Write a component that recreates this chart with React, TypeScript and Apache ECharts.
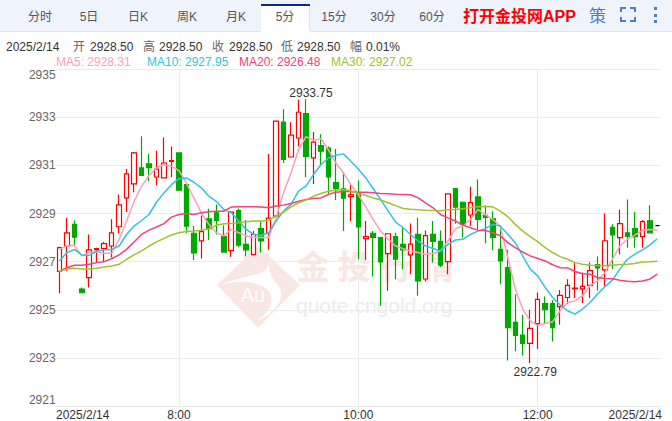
import React, { useEffect, useRef } from "react";
import * as echarts from "echarts";

const opens = [2926.59,2927.65,2928.55,2925.86,2926.34,2927.50,2927.54,2927.65,2928.45,2929.65,2930.23,2930.90,2931.07,2930.52,2930.48,2931.17,2931.52,2930.20,2928.18,2927.86,2928.78,2929.03,2928.04,2927.46,2929.12,2927.72,2927.29,2928.37,2928.20,2928.89,2932.80,2931.35,2932.14,2933.15,2931.31,2931.82,2931.72,2930.29,2930.03,2929.70,2929.85,2927.96,2928.18,2928.00,2927.33,2928.04,2927.72,2927.28,2928.13,2926.28,2928.13,2927.84,2927.00,2930.04,2929.47,2928.94,2929.69,2928.92,2928.78,2927.51,2926.75,2924.48,2923.95,2923.60,2924.42,2925.26,2925.26,2925.13,2925.51,2925.88,2925.87,2926.01,2926.88,2926.66,2928.43,2928.00,2928.20,2928.37,2928.04,2928.70,2928.50];
const closes = [2927.58,2928.20,2928.02,2925.71,2927.49,2927.54,2927.75,2928.20,2929.36,2930.65,2931.52,2930.59,2930.91,2930.85,2931.10,2931.20,2929.97,2928.48,2927.36,2928.25,2928.37,2928.71,2927.40,2929.06,2927.69,2927.49,2928.13,2927.86,2928.81,2932.84,2931.25,2932.26,2933.21,2931.38,2931.97,2931.59,2930.52,2930.05,2929.64,2929.78,2928.44,2928.04,2928.01,2926.99,2928.16,2927.10,2927.49,2927.73,2926.20,2928.08,2927.84,2926.85,2929.82,2929.27,2928.55,2929.45,2928.76,2928.84,2928.01,2927.03,2924.26,2923.93,2923.60,2924.23,2925.43,2925.00,2924.26,2925.60,2926.01,2925.90,2925.97,2926.63,2926.74,2927.87,2928.11,2928.58,2928.05,2928.04,2928.66,2928.20,2928.50];
const lows = [2925.69,2926.62,2927.65,2925.71,2925.93,2926.96,2926.99,2927.17,2928.18,2929.06,2929.89,2930.59,2930.34,2930.18,2930.48,2930.52,2929.97,2928.18,2927.07,2927.13,2927.90,2928.13,2927.40,2927.20,2927.60,2927.21,2927.29,2927.38,2927.49,2928.86,2931.10,2931.35,2931.79,2930.51,2930.23,2930.99,2929.83,2929.56,2928.27,2928.69,2927.10,2927.07,2926.38,2925.17,2925.79,2926.27,2926.68,2926.48,2925.58,2926.17,2926.96,2926.78,2926.48,2928.58,2928.00,2928.48,2928.34,2927.76,2927.47,2926.06,2922.89,2923.28,2923.10,2922.79,2923.37,2924.45,2923.68,2924.38,2925.24,2925.49,2925.28,2925.49,2925.79,2925.97,2926.69,2927.31,2927.58,2927.58,2927.58,2928.20,2928.50];
const highs = [2927.62,2928.83,2928.71,2925.93,2928.13,2927.58,2927.82,2928.76,2929.79,2930.85,2931.56,2932.21,2931.49,2931.61,2932.16,2931.79,2931.52,2930.20,2928.48,2928.92,2929.20,2929.38,2928.51,2929.10,2929.21,2928.73,2928.27,2928.69,2931.47,2932.84,2933.34,2932.79,2933.73,2933.75,2932.39,2932.30,2931.79,2931.68,2930.72,2930.25,2930.37,2928.69,2928.27,2928.00,2928.16,2928.20,2928.41,2928.59,2928.83,2928.30,2928.69,2928.30,2929.82,2930.04,2929.50,2930.11,2930.41,2929.33,2929.10,2928.48,2927.50,2925.65,2924.78,2925.00,2925.72,2925.55,2925.40,2925.82,2926.27,2926.96,2926.55,2926.96,2927.21,2929.00,2928.55,2929.17,2929.58,2929.06,2928.73,2929.34,2928.50];

const ma5 = [2927.51,2927.65,2927.68,2927.24,2927.38,2927.42,2927.35,2927.35,2927.93,2928.69,2929.50,2930.14,2930.58,2930.90,2931.03,2930.97,2930.78,2930.27,2929.65,2929.03,2928.55,2928.20,2928.07,2928.34,2928.20,2928.07,2928.00,2928.00,2928.00,2928.82,2929.86,2930.69,2931.65,2932.20,2932.04,2932.11,2931.65,2931.10,2930.69,2930.20,2929.79,2929.28,2928.75,2928.27,2927.93,2927.65,2927.54,2927.44,2927.38,2927.31,2927.35,2927.44,2927.86,2928.37,2928.48,2928.75,2929.17,2928.96,2928.75,2928.48,2927.17,2925.86,2925.03,2924.55,2924.34,2924.43,2924.50,2924.96,2925.30,2925.37,2925.58,2926.00,2926.20,2926.55,2927.10,2927.65,2927.93,2928.10,2928.30,2928.34,2928.31];
const ma10 = [2927.03,2927.37,2927.51,2927.28,2927.26,2927.44,2927.49,2927.51,2927.65,2928.13,2928.48,2928.71,2928.96,2929.47,2929.86,2930.20,2930.45,2930.48,2930.30,2930.07,2929.72,2929.51,2929.17,2929.03,2928.69,2928.34,2928.13,2928.09,2928.20,2928.69,2929.10,2929.38,2929.93,2930.14,2930.62,2931.03,2931.31,2931.42,2931.48,2931.17,2930.85,2930.48,2930.03,2929.58,2929.10,2928.64,2928.41,2928.13,2927.86,2927.65,2927.55,2927.44,2927.72,2927.90,2927.93,2928.13,2928.27,2928.37,2928.55,2928.48,2928.14,2927.79,2927.24,2926.69,2926.41,2925.93,2925.51,2925.20,2924.96,2924.82,2925.03,2925.30,2925.65,2925.96,2926.23,2926.69,2927.10,2927.31,2927.49,2927.69,2927.95];
const ma20 = [2926.59,2926.75,2926.85,2926.85,2926.89,2926.96,2927.00,2927.12,2927.28,2927.51,2927.82,2928.13,2928.31,2928.44,2928.58,2928.85,2928.96,2929.00,2928.96,2929.03,2929.07,2929.10,2929.10,2929.27,2929.28,2929.28,2929.28,2929.27,2929.24,2929.31,2929.35,2929.42,2929.51,2929.58,2929.63,2929.65,2929.79,2929.89,2929.92,2929.92,2929.88,2929.89,2929.86,2929.83,2929.82,2929.80,2929.79,2929.78,2929.65,2929.44,2929.24,2928.96,2928.82,2928.69,2928.52,2928.41,2928.31,2928.30,2928.20,2928.07,2927.79,2927.58,2927.40,2927.24,2927.13,2927.03,2926.87,2926.75,2926.74,2926.59,2926.50,2926.48,2926.34,2926.30,2926.29,2926.23,2926.19,2926.16,2926.20,2926.27,2926.48];
const ma30 = [2926.59,2926.69,2926.73,2926.69,2926.69,2926.73,2926.78,2926.82,2926.89,2927.10,2927.28,2927.45,2927.65,2927.82,2927.97,2928.11,2928.20,2928.25,2928.27,2928.31,2928.37,2928.51,2928.58,2928.59,2928.62,2928.66,2928.69,2928.69,2928.71,2928.89,2929.06,2929.28,2929.45,2929.56,2929.72,2929.83,2929.93,2929.97,2930.00,2929.95,2929.83,2929.75,2929.65,2929.56,2929.45,2929.33,2929.21,2929.18,2929.16,2929.14,2929.13,2929.12,2929.16,2929.17,2929.20,2929.25,2929.28,2929.29,2929.28,2929.10,2928.87,2928.55,2928.27,2928.04,2927.83,2927.58,2927.38,2927.21,2927.10,2926.96,2926.89,2926.85,2926.84,2926.83,2926.85,2926.88,2926.89,2926.92,2926.99,2927.00,2927.02];

const categories = [
  "2025/2/14","6:45","6:50","6:55","7:00","7:05","7:10","7:15","7:20","7:25","7:30","7:35","7:40","7:45","7:50","7:55",
  "8:00","8:05","8:10","8:15","8:20","8:25","8:30","8:35","8:40","8:45","8:50","8:55","9:00","9:05","9:10","9:15","9:20","9:25","9:30","9:35","9:40","9:45","9:50","9:55",
  "10:00","10:05","10:10","10:15","10:20","10:25","10:30","10:35","10:40","10:45","10:50","10:55","11:00","11:05","11:10","11:15","11:20","11:25","11:30","11:35","11:40","11:45","11:50","11:55",
  "12:00","12:05","12:10","12:15","12:20","12:25","12:30","12:35","12:40","12:45","12:50","12:55","13:00","13:05","13:10","13:15","2025/2/14",
];
const labelIndexes = [16, 40, 64];
const gridIndexes = [16, 40, 64];
const dateLabel = "2025/2/14";
const tabs = ["分时", "5日", "日K", "周K", "月K", "5分", "15分", "30分", "60分"];
const tabCenters = [40, 89, 138, 187, 236, 285, 334, 383, 432];
const quoteParts: [string, number, boolean][] = [
  ["2025/2/14", 6, true], ["开", 73, false], ["2928.50", 90, true], ["高", 143, false], ["2928.50", 159, true],
  ["收", 212, false], ["2928.50", 229, true], ["低", 281, false], ["2928.50", 297, true], ["幅", 350, false], ["0.01%", 366, true],
];
const legendItems: [string, number, string][] = [
  ["MA5: 2928.31", 56, "#fd9fbd"], ["MA10: 2927.95", 147, "#2fc5e0"], ["MA20: 2926.48", 239, "#f1437f"], ["MA30: 2927.02", 331, "#a3c22b"],
];
const wmChars: [string, number][] = [["金", 313], ["投", 354], ["行", 396], ["情", 438]];

const FONT = '"Liberation Sans","Noto Sans CJK SC",sans-serif';
const RED = "#ff0000";
const GREEN = "#00a800";
const BLUE = "#4a80c4";

echarts.graphic.registerShape("wmDiamond", echarts.graphic.extendPath("M258 248 L298 285 L258 326 L219 285 Z", {}));
echarts.graphic.registerShape(
  "wmSwoosh",
  echarts.graphic.extendPath(
    "M221 285 C235 278 255 276.3 263.3 271.3 C268.3 268 268.3 263 268.3 259.7 C268.3 273 273.3 279.7 280 288 C285 298 275 314.7 256.7 320.7 C268.3 313 275 303 270 293 C265 283 241.7 278 221 285 Z",
    {}
  )
);

function txt(text: string, x: number, y: number, fill: string, size: number, extra: any = {}) {
  return {
    type: "text",
    x,
    y,
    z: 10,
    silent: true,
    style: { text, fill, font: `${extra.weight || "normal"} ${size}px ${FONT}`, textAlign: extra.align || "left", textVerticalAlign: "middle" },
  };
}

export default function App() {
  const ref = useRef<HTMLDivElement>(null);
  useEffect(() => {
    document.body.style.margin = "0";
    const chart = echarts.init(ref.current!, null, { renderer: "svg" });
    const candle = categories.map((_, i) => {
      const value = [opens[i], closes[i], lows[i], highs[i]];
      return i === 80
        ? { value, itemStyle: { borderColor: "#000", borderColor0: "#000", borderColorDoji: "#000" } }
        : { value };
    });
    const line = (name: string, data: number[], color: string) => ({
      name,
      type: "line",
      data,
      symbol: "none",
      smooth: false,
      silent: true,
      z: 5,
      lineStyle: { color, width: 1.5 },
    });
    const graphic: any[] = [
      { type: "rect", z: 1, shape: { x: 0, y: 0, width: 672, height: 31 }, style: { fill: "#eff3fc" } },
      { type: "rect", z: 1, shape: { x: 0, y: 31, width: 672, height: 1 }, style: { fill: "#dbe4f2" } },
      { type: "rect", z: 2, shape: { x: 261, y: 4, width: 49, height: 28 }, style: { fill: "#ffffff" } },
      { type: "rect", z: 2, shape: { x: 309, y: 6, width: 1, height: 25 }, style: { fill: "#dbe4f2" } },
      { type: "rect", z: 2, shape: { x: 261, y: 4, width: 49, height: 2 }, style: { fill: "#0c2a82" } },
      ...tabs.map((t, i) => txt(t, tabCenters[i], 17, "#555555", 12, { align: "center" })),
      txt("打开金投网APP", 463, 16, "#ff0000", 16, { weight: "bold" }),
      txt("策", 589, 16, BLUE, 17),
      ...[
        [[621, 12], [621, 8], [626, 8]],
        [[630, 8], [635, 8], [635, 12]],
        [[621, 17], [621, 21], [626, 21]],
        [[630, 21], [635, 21], [635, 17]],
      ].map((points) => ({ type: "polyline", z: 3, shape: { points }, style: { stroke: BLUE, lineWidth: 2, fill: "none" } })),
      ...[7, 14, 20].map((y) => ({ type: "rect", z: 3, shape: { x: 654, y, width: 3, height: 3 }, style: { fill: BLUE } })),
      ...quoteParts.map(([t, x, dark]) => txt(t, x, 47, dark ? "#333333" : "#666666", 12)),
      ...legendItems.map(([t, x, c]) => txt(t, x, 62, c, 12)),
      txt(dateLabel, 56, 415, "#333333", 12),
      txt(dateLabel, 662, 415, "#333333", 12, { align: "right" }),
      { type: "wmDiamond", z: -1, style: { fill: "#f9e7e3", stroke: "#f9e7e3", lineWidth: 3, lineJoin: "round" } },
      { type: "wmSwoosh", z: -1, style: { fill: "#ffffff" } },
      { type: "text", x: 253, y: 295, z: -1, style: { text: "Au", fill: "#ffffff", font: `20px ${FONT}`, textAlign: "center", textVerticalAlign: "middle" } },
      ...wmChars.map(([c, x]) => ({ type: "text", x, y: 265, z: -1, style: { text: c, fill: "#f9e7e3", font: `bold 33px "Noto Sans CJK SC"`, textAlign: "center", textVerticalAlign: "middle" } })),
      { type: "text", x: 296, y: 305, z: -1, style: { text: "quote.cngold.org", fill: "#ececec", font: `21px ${FONT}`, textVerticalAlign: "middle" } },
    ];
    chart.setOption({
      animation: false,
      backgroundColor: "#ffffff",
      textStyle: { fontFamily: FONT },
      grid: { left: 55.6, right: 11, top: 69.2, bottom: 13.7, containLabel: false },
      graphic,
      xAxis: {
        type: "category",
        data: categories,
        boundaryGap: true,
        axisLine: { show: true, lineStyle: { color: "#e8e8e8" } },
        axisTick: { show: false },
        splitLine: {
          show: true,
          alignWithLabel: true,
          interval: (i: number) => gridIndexes.includes(i),
          lineStyle: { color: "#ececec" },
        },
        axisLabel: {
          interval: (i: number) => labelIndexes.includes(i),
          color: "#333333",
          fontSize: 12,
          margin: 3,
          hideOverlap: false,
        },
      },
      yAxis: {
        type: "value",
        min: 2921,
        max: 2935,
        interval: 2,
        position: "left",
        axisLine: { show: false },
        axisTick: { show: false },
        splitLine: { show: true, lineStyle: { color: "#ececec" } },
        axisLabel: {
          color: "#666666",
          fontSize: 12,
          margin: 0,
          formatter: (v: number) => String(v),
          verticalAlignMaxLabel: "top",
          verticalAlignMinLabel: "bottom",
        },
      },
      series: [
        {
          name: "K",
          type: "candlestick",
          data: candle,
          barWidth: 5,
          z: 3,
          silent: true,
          itemStyle: { color: "#ffffff", color0: GREEN, borderColor: RED, borderColor0: GREEN, borderColorDoji: RED, borderWidth: 1.2 },
          markPoint: {
            symbol: "circle",
            symbolSize: 0,
            silent: true,
            animation: false,
            data: [
              { coord: [33, 2933.75], value: 2933.75, label: { position: "top", distance: 0, offset: [5, 0] } },
              { coord: [63, 2922.79], value: 2922.79, label: { position: "bottom", distance: 2, offset: [5, 1] } },
            ],
            label: { show: true, color: "#333333", fontSize: 12, formatter: (p: any) => Number(p.value).toFixed(2) },
          },
        },
        line("MA5", ma5, "#fd9fbd"),
        line("MA10", ma10, "#2fc5e0"),
        line("MA20", ma20, "#f1437f"),
        line("MA30", ma30, "#a3c22b"),
      ],
    });
    return () => chart.dispose();
  }, []);
  return <div ref={ref} style={{ width: 672, height: 421, position: "absolute", left: 0, top: 0 }} />;
}
